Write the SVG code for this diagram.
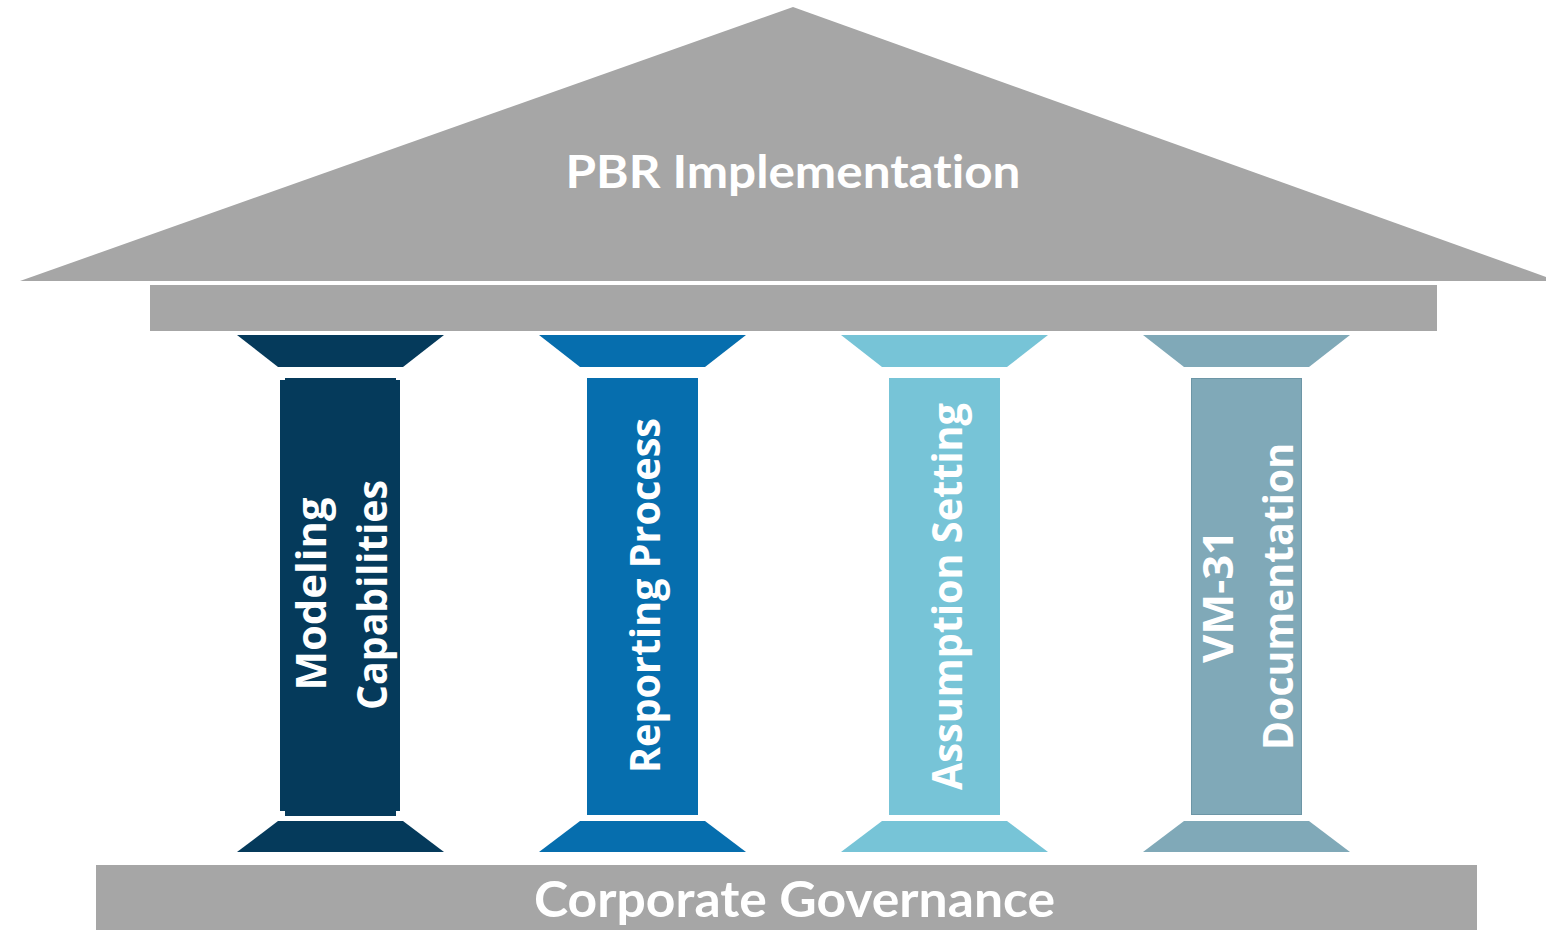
<svg xmlns="http://www.w3.org/2000/svg" width="1546" height="930" viewBox="0 0 1546 930">
  <style>
    .grey { fill: #A6A6A6; }
    .title { font-family: Lato, "Open Sans", "Liberation Sans", sans-serif; font-weight: bold; fill: #FFFFFF; text-anchor: middle; font-variant-ligatures: none; font-feature-settings: "liga" 0, "clig" 0; }
    .label { font-family: "Open Sans", "Liberation Sans", sans-serif; font-weight: bold; font-size: 42px; fill: #FFFFFF; text-anchor: middle; }
    .c1 { fill: #053A5B; }
    .c2 { fill: #066EAE; }
    .c3 { fill: #77C4D7; }
    .c4 { fill: #80A9B8; }
  </style>
  <rect width="1546" height="930" fill="#FFFFFF"/>

  <!-- roof and architrave -->
  <g id="roof">
    <polygon class="grey" points="793,7 1546,277 1546,281 20,281"/>
    <text class="title" x="793" y="188" font-size="45" textLength="455" lengthAdjust="spacingAndGlyphs">PBR Implementation</text>
  </g>
  <g id="beam">
    <rect class="grey" x="150" y="285" width="1287" height="46"/>
  </g>

  <!-- pillar 1 -->
  <g id="pillar-modeling">
    <polygon class="c1" points="237,335 444,335 403,367 278,367"/>
    <rect class="c1" x="285" y="378" width="111" height="3"/>
    <rect class="c1" x="280" y="380" width="120" height="431"/>
    <rect class="c1" x="285" y="810" width="111" height="6"/>
    <polygon class="c1" points="278,821 403,821 444,852 237,852"/>
    <text class="label" transform="translate(326,594) rotate(-90)" textLength="193" lengthAdjust="spacingAndGlyphs">Modeling</text>
    <text class="label" transform="translate(387,595) rotate(-90)" textLength="230" lengthAdjust="spacingAndGlyphs">Capabilities</text>
  </g>

  <!-- pillar 2 -->
  <g id="pillar-reporting">
    <polygon class="c2" points="539,335 746,335 705,367 580,367"/>
    <rect class="c2" x="587" y="378" width="111" height="437"/>
    <polygon class="c2" points="580,821 705,821 746,852 539,852"/>
    <text class="label" transform="translate(660,595.5) rotate(-90)" textLength="355" lengthAdjust="spacingAndGlyphs">Reporting Process</text>
  </g>

  <!-- pillar 3 -->
  <g id="pillar-assumption">
    <polygon class="c3" points="841,335 1048,335 1007,367 882,367"/>
    <rect class="c3" x="889" y="378" width="111" height="437"/>
    <polygon class="c3" points="882,821 1007,821 1048,852 841,852"/>
    <text class="label" transform="translate(962,596.5) rotate(-90)" textLength="387" lengthAdjust="spacingAndGlyphs">Assumption Setting</text>
  </g>

  <!-- pillar 4 -->
  <g id="pillar-vm31">
    <polygon class="c4" points="1143,335 1350,335 1309,367 1184,367"/>
    <rect class="c4" x="1191.5" y="378.5" width="110" height="436" stroke="#6D96A6" stroke-width="1"/>
    <polygon class="c4" points="1184,821 1309,821 1350,852 1143,852"/>
    <text class="label" transform="translate(1233,596.5) rotate(-90)" textLength="133" lengthAdjust="spacingAndGlyphs">VM-31</text>
    <text class="label" transform="translate(1293,596.5) rotate(-90)" textLength="307" lengthAdjust="spacingAndGlyphs">Documentation</text>
  </g>

  <!-- foundation -->
  <g id="foundation">
    <rect class="grey" x="96" y="865" width="1381" height="65"/>
    <text class="title" x="794.5" y="917" font-size="50" font-weight="600" textLength="521" lengthAdjust="spacingAndGlyphs">Corporate Governance</text>
  </g>

  <g id="connectors"/>
</svg>
